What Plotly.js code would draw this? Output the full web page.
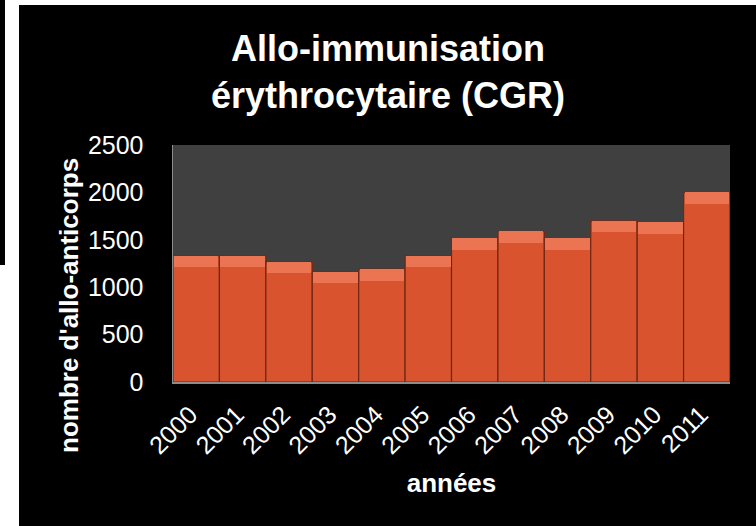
<!DOCTYPE html>
<html>
<head>
<meta charset="utf-8">
<script src="https://cdn.plot.ly/plotly-3.0.1.min.js"></script>
<style>html,body{margin:0;padding:0;background:#fff;}#chart{width:756px;height:526px;}</style>
</head>
<body>
<div id="chart"></div>
<script>
var years = ['2000','2001','2002','2003','2004','2005','2006','2007','2008','2009','2010','2011'];
var counts = [1330,1330,1265,1160,1190,1330,1515,1590,1515,1700,1685,2000];
var yTicks = [0,500,1000,1500,2000,2500];
var chartTitle = 'Allo-immunisation<br>érythrocytaire (CGR)';
var xTitle = 'années';
var yTitle = "nombre d'allo-anticorps";

var bevel = 120;
var FONT = 'Arial, "Liberation Sans", sans-serif';

var traces = [
  {
    type: 'bar', x: years, y: counts,
    marker: {color: '#D9532F', line: {color: '#6e2816', width: 1.2}},
    hoverinfo: 'x+y'
  },
  {
    type: 'bar', x: years,
    y: counts.map(function(){ return bevel; }),
    base: counts.map(function(v){ return v - bevel; }),
    width: 0.96,
    marker: {color: '#EB7552', line: {width: 0}},
    hoverinfo: 'skip'
  }
];

var layout = {
  width: 756, height: 526,
  margin: {l: 173, r: 26, t: 145, b: 144},
  paper_bgcolor: '#ffffff',
  plot_bgcolor: 'rgba(0,0,0,0)',
  barmode: 'overlay',
  bargap: 0,
  showlegend: false,
  font: {family: FONT, color: '#ffffff', size: 25},
  xaxis: {
    type: 'category',
    tickangle: -45,
    showgrid: false, zeroline: false,
    showline: true, linecolor: '#8c8c8c', linewidth: 2,
    ticks: '', ticklabelstandoff: 6, ticklabelshift: -6,
    tickfont: {family: FONT, size: 25, color: '#ffffff'},
    title: {text: xTitle, font: {family: FONT, size: 26, color: '#ffffff', weight: 'bold'}, standoff: 16}
  },
  yaxis: {
    range: [0, 2500],
    tickvals: yTicks,
    showgrid: false, zeroline: false,
    showline: true, linecolor: '#8c8c8c', linewidth: 1.5,
    ticks: '', ticklabelstandoff: 23,
    tickfont: {family: FONT, size: 25, color: '#ffffff'}
  },
  annotations: [
    {
      text: chartTitle, showarrow: false,
      xref: 'paper', yref: 'paper',
      x: (387.5 - 173) / 557, y: (382 - 26) / 237,
      xanchor: 'center', yanchor: 'top', align: 'center',
      font: {family: FONT, size: 36, color: '#ffffff', weight: 'bold'}
    },
    {
      text: yTitle, textangle: -90, showarrow: false,
      xref: 'paper', yref: 'paper',
      x: (69 - 173) / 557, y: (382 - 306) / 237,
      xanchor: 'center', yanchor: 'middle',
      font: {family: FONT, size: 26, color: '#ffffff', weight: 'bold'}
    }
  ],
  shapes: [
    {type: 'rect', xref: 'paper', yref: 'paper', layer: 'below',
     x0: (19 - 173) / 557, x1: (756 - 173) / 557, y0: (382 - 526) / 237, y1: (382 - 5) / 237,
     fillcolor: '#000000', line: {width: 0}},
    {type: 'rect', xref: 'paper', yref: 'paper', layer: 'below',
     x0: (0 - 173) / 557, x1: (5 - 173) / 557, y0: (382 - 265) / 237, y1: (382 - 0) / 237,
     fillcolor: '#000000', line: {width: 0}},
    {type: 'rect', xref: 'paper', yref: 'paper', layer: 'below',
     x0: 0, x1: 1, y0: 0, y1: 1,
     fillcolor: '#404040', line: {width: 0}}
  ]
};

Plotly.newPlot('chart', traces, layout, {displayModeBar: false, staticPlot: true});
</script>
</body>
</html>
